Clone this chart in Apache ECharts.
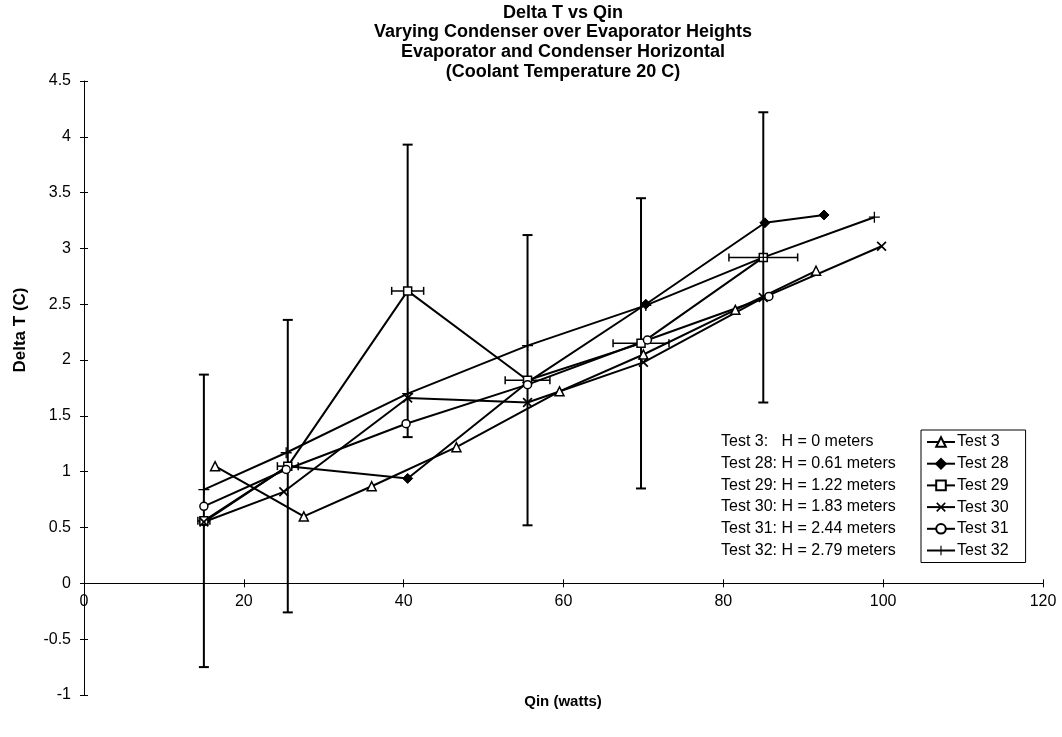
<!DOCTYPE html>
<html>
<head>
<meta charset="utf-8">
<script src="https://cdn.jsdelivr.net/npm/echarts@6/dist/echarts.min.js"></script>
<style>
html,body{margin:0;padding:0;background:#fff;}
#chart{width:1062px;height:737px;}
</style>
</head>
<body>
<div id="chart"></div>
<script>
// ---- data ----
const seriesNames = ['Test 3', 'Test 28', 'Test 29', 'Test 30', 'Test 31', 'Test 32'];
const heights = ['0', '0.61', '1.22', '1.83', '2.44', '2.79'];

const test3X  = [16.4, 27.5, 36.0, 46.6, 59.5, 70.0, 81.5, 91.6];
const test3Y  = [1.05, 0.60, 0.87, 1.22, 1.72, 2.05, 2.45, 2.80];

const test28X = [15.0, 25.5, 40.5, 55.5, 70.3, 85.2, 92.6];
const test28Y = [0.55, 1.05, 0.94, 1.80, 2.50, 3.23, 3.30];

const test29X = [15.0, 25.5, 40.5, 55.5, 69.7, 85.0];
const test29Y = [0.56, 1.05, 2.62, 1.82, 2.15, 2.92];
const test29XErr = [0.75, 1.3, 2.0, 2.8, 3.5, 4.3];
const test29YErr = [1.31, 1.31, 1.31, 1.30, 1.30, 1.30];

const test30X = [15.0, 25.0, 40.5, 55.5, 70.0, 85.0, 99.8];
const test30Y = [0.55, 0.82, 1.66, 1.62, 1.98, 2.56, 3.02];

const test31X = [15.0, 25.3, 40.3, 55.5, 70.5, 85.7];
const test31Y = [0.69, 1.02, 1.43, 1.78, 2.18, 2.57];

const test32X = [15.0, 25.3, 40.5, 55.5, 70.3, 85.0, 98.9];
const test32Y = [0.84, 1.17, 1.70, 2.13, 2.49, 2.92, 3.28];

const titleLines = ['Delta T vs Qin', 'Varying Condenser over Evaporator Heights',
  'Evaporator and Condenser Horizontal', '(Coolant Temperature 20 C)'];
const xName = 'Qin (watts)';
const yName = 'Delta T (C)';

// ---- build ----
const zip = (xs, ys) => xs.map((x, i) => [x, ys[i]]);
const FONT = '"Liberation Sans", Arial, sans-serif';
const X_MIN = 0, X_MAX = 120, X_INT = 20;
const Y_MIN = -1, Y_MAX = 4.5, Y_INT = 0.5;

const GRID = {left: 84, right: 19, top: 81, bottom: 42};
const plotW = 1062 - GRID.left - GRID.right;
const plotH = 737 - GRID.top - GRID.bottom;
const zeroFromBottom = plotH * (0 - Y_MIN) / (Y_MAX - Y_MIN);
const zeroFromTop = plotH - zeroFromBottom;

const symX = 'path://M0,1.2L1.2,0L5,3.8L8.8,0L10,1.2L6.2,5L10,8.8L8.8,10L5,6.2L1.2,10L0,8.8L3.8,5Z';
const symPlus = 'path://M4.4,0H5.6V4.4H10V5.6H5.6V10H4.4V5.6H0V4.4H4.4Z';

const markerStyles = [
  {symbol: 'triangle', symbolSize: 9, itemStyle: {color: '#fff', borderColor: '#000', borderWidth: 1.5}},
  {symbol: 'diamond', symbolSize: 10, itemStyle: {color: '#000', borderColor: '#000', borderWidth: 1}},
  {symbol: 'rect', symbolSize: 8, itemStyle: {color: '#fff', borderColor: '#000', borderWidth: 1.5}},
  {symbol: symX, symbolSize: 10, itemStyle: {color: '#000', borderWidth: 0}},
  {symbol: 'circle', symbolSize: 8, itemStyle: {color: '#fff', borderColor: '#000', borderWidth: 1.5}},
  {symbol: symPlus, symbolSize: 11, itemStyle: {color: '#000', borderWidth: 0}}
];
const allData = [zip(test3X, test3Y), zip(test28X, test28Y), zip(test29X, test29Y),
  zip(test30X, test30Y), zip(test31X, test31Y), zip(test32X, test32Y)];

const lineSeries = seriesNames.map((name, i) => Object.assign({
  name: name,
  type: 'line',
  xAxisIndex: 0, yAxisIndex: 0,
  data: allData[i],
  showSymbol: true,
  symbolKeepAspect: true,
  lineStyle: {color: '#000', width: 2},
  emphasis: {disabled: true},
  animation: false,
  z: 3
}, markerStyles[i]));

const errData = test29X.map((x, i) => [x, test29Y[i], test29XErr[i], test29YErr[i]]);
const errSeries = {
  type: 'custom',
  name: 'err29',
  xAxisIndex: 0, yAxisIndex: 0,
  data: errData,
  encode: {x: 0, y: 1},
  z: 2,
  animation: false,
  renderItem: function (params, api) {
    const x = api.value(0), y = api.value(1), ex = api.value(2), ey = api.value(3);
    const top = api.coord([x, y + ey]);
    const bot = api.coord([x, y - ey]);
    const lft = api.coord([x - ex, y]);
    const rgt = api.coord([x + ex, y]);
    const vs = {stroke: '#000', lineWidth: 2};
    const hs = {stroke: '#000', lineWidth: 1.5};
    const cw = 5, ch = 4;
    return {
      type: 'group',
      children: [
        {type: 'line', shape: {x1: top[0], y1: top[1], x2: bot[0], y2: bot[1]}, style: vs},
        {type: 'line', shape: {x1: top[0] - cw, y1: top[1], x2: top[0] + cw, y2: top[1]}, style: vs},
        {type: 'line', shape: {x1: bot[0] - cw, y1: bot[1], x2: bot[0] + cw, y2: bot[1]}, style: vs},
        {type: 'line', shape: {x1: lft[0], y1: lft[1], x2: rgt[0], y2: rgt[1]}, style: hs},
        {type: 'line', shape: {x1: lft[0], y1: lft[1] - ch, x2: lft[0], y2: lft[1] + ch}, style: hs},
        {type: 'line', shape: {x1: rgt[0], y1: rgt[1] - ch, x2: rgt[0], y2: rgt[1] + ch}, style: hs}
      ]
    };
  }
};

const noteText = seriesNames.map((n, i) =>
  n + ':' + (i === 0 ? '   ' : ' ') + 'H = ' + heights[i] + ' meters').join('\n');

const chart = echarts.init(document.getElementById('chart'), null, {renderer: 'canvas'});
chart.setOption({
  backgroundColor: '#fff',
  animation: false,
  textStyle: {fontFamily: FONT, color: '#000'},
  grid: Object.assign({containLabel: false}, GRID),
  xAxis: [{
    type: 'value', min: X_MIN, max: X_MAX, interval: X_INT,
    position: 'bottom', offset: -zeroFromBottom,
    axisLine: {onZero: false, lineStyle: {color: '#000', width: 1}},
    axisTick: {show: true, length: 4, lineStyle: {color: '#000'}},
    axisLabel: {color: '#000', fontSize: 16, fontFamily: FONT, margin: 10},
    splitLine: {show: false}
  }, {
    type: 'value', min: X_MIN, max: X_MAX, interval: X_INT,
    position: 'top', offset: -zeroFromTop,
    axisLine: {show: false, onZero: false},
    axisTick: {show: true, length: 4, lineStyle: {color: '#000'}},
    axisLabel: {show: false},
    splitLine: {show: false}
  }],
  yAxis: [{
    type: 'value', min: Y_MIN, max: Y_MAX, interval: Y_INT,
    position: 'left',
    axisLine: {show: true, onZero: false, lineStyle: {color: '#000', width: 1}},
    axisTick: {show: true, length: 4, lineStyle: {color: '#000'}},
    axisLabel: {color: '#000', fontSize: 16, fontFamily: FONT, margin: 13},
    splitLine: {show: false}
  }, {
    type: 'value', min: Y_MIN, max: Y_MAX, interval: Y_INT,
    position: 'right', offset: -plotW,
    axisLine: {show: false, onZero: false},
    axisTick: {show: true, length: 4, lineStyle: {color: '#000'}},
    axisLabel: {show: false},
    splitLine: {show: false}
  }],
  legend: {
    data: seriesNames,
    orient: 'vertical',
    left: 921, top: 430,
    itemWidth: 28, itemHeight: 12, itemGap: 5.7,
    padding: [4, 17, 4, 5],
    borderColor: '#000', borderWidth: 1,
    textStyle: {fontSize: 16, fontFamily: FONT, color: '#000', padding: [0, 0, 0, -3]},
    selectedMode: false
  },
  graphic: [
    {type: 'text', x: 563, y: 3, silent: true,
      style: {text: titleLines.join('\n'), textAlign: 'center', fill: '#000',
        font: 'bold 18px ' + FONT, lineHeight: 19.6}},
    {type: 'text', x: 563, y: 694, silent: true,
      style: {text: xName, textAlign: 'center', fill: '#000', font: 'bold 15px ' + FONT}},
    {type: 'text', x: 20, y: 330, rotation: Math.PI / 2, silent: true,
      style: {text: yName, textAlign: 'center', textVerticalAlign: 'middle', fill: '#000',
        font: 'bold 17px ' + FONT}},
    {type: 'text', x: 721, y: 431, silent: true,
      style: {text: noteText, textAlign: 'left', fill: '#000', font: '16px ' + FONT, lineHeight: 21.7}}
  ],
  series: lineSeries.concat([errSeries])
});
</script>
</body>
</html>
